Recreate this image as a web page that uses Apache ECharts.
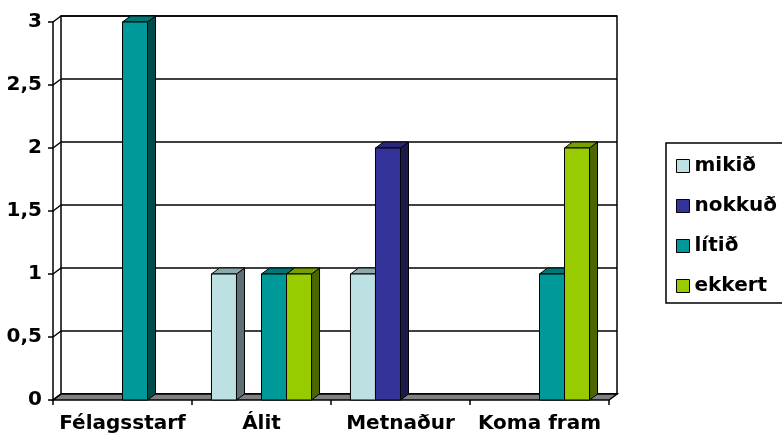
<!DOCTYPE html>
<html>
<head>
<meta charset="utf-8">
<script src="https://cdn.jsdelivr.net/npm/echarts@6/dist/echarts.min.js"></script>
<style>
    html, body { margin: 0; padding: 0; background: #fff; }
    #chart { width: 782px; height: 443px; }
</style>
</head>
<body>
<div id="chart"></div>
<script>
var categories = ["Félagsstarf", "Álit", "Metnaður", "Koma fram"];
var seriesNames = ["mikið", "nokkuð", "lítið", "ekkert"];
var mikid = [0, 1, 1, 0];
var nokkud = [0, 0, 2, 0];
var litid = [3, 1, 0, 1];
var ekkert = [0, 1, 0, 2];
var yTicks = [0, 0.5, 1, 1.5, 2, 2.5, 3];

// front, top, side colours
var faceColors = [
    ["#bde0e3", "#8ea9ac", "#5e7073"],
    ["#333399", "#282878", "#1a1a4c"],
    ["#009999", "#007777", "#004c4c"],
    ["#99cc00", "#779f00", "#4c6600"]
];
var dx = 8, dy = -6;
var fontName = "DejaVu Sans";

function makeBar(idx) {
    return function (params, api) {
        var v = api.value(1);
        if (!v) {
            return null;
        }
        var band = api.size([1, 0])[0];
        var bw = band * 0.18;
        var top = api.coord([api.value(0), v]);
        var base = api.coord([api.value(0), 0]);
        var x0 = top[0] - bw * 2 + idx * bw;
        var yt = top[1], yb = base[1];
        var cols = faceColors[idx];
        var line = { stroke: "#000", lineWidth: 1 };
        return {
            type: "group",
            children: [{
                type: "polygon",
                shape: { points: [[x0 + bw, yt], [x0 + bw + dx, yt + dy], [x0 + bw + dx, yb + dy], [x0 + bw, yb]] },
                style: Object.assign({ fill: cols[2] }, line)
            }, {
                type: "polygon",
                shape: { points: [[x0, yt], [x0 + bw, yt], [x0 + bw + dx, yt + dy], [x0 + dx, yt + dy]] },
                style: Object.assign({ fill: cols[1] }, line)
            }, {
                type: "rect",
                shape: { x: x0, y: yt, width: bw, height: yb - yt },
                style: Object.assign({ fill: cols[0] }, line)
            }]
        };
    };
}

function toData(arr) {
    var out = [];
    for (var i = 0; i < arr.length; i++) {
        out.push([i, arr[i]]);
    }
    return out;
}

// floor strip under the bars
function renderFloor(params, api) {
    var cs = params.coordSys;
    var yb = cs.y + cs.height;
    return {
        type: "polygon",
        shape: { points: [[cs.x, yb], [cs.x + cs.width, yb], [cs.x + cs.width + dx, yb + dy], [cs.x + dx, yb + dy]] },
        style: { fill: "#808080", stroke: "#000", lineWidth: 1.5 }
    };
}

// left wall diagonals at each tick
function renderWall(params, api) {
    var cs = params.coordSys;
    var p = api.coord([0, api.value(1)]);
    return {
        type: "line",
        shape: { x1: cs.x, y1: p[1], x2: cs.x + dx, y2: p[1] + dy },
        style: { stroke: "#000", lineWidth: 1.5 }
    };
}

var wallData = [];
for (var t = 0; t < yTicks.length; t++) {
    wallData.push([0, yTicks[t]]);
}
var barValues = [mikid, nokkud, litid, ekkert];

var series = [];
for (var s = 0; s < seriesNames.length; s++) {
    series.push({
        name: seriesNames[s],
        type: "custom",
        xAxisIndex: 0,
        yAxisIndex: 0,
        z: 5,
        itemStyle: { color: faceColors[s][0], borderColor: "#000", borderWidth: 1 },
        renderItem: makeBar(s),
        data: toData(barValues[s])
    });
}
series.push({
    type: "custom",
    xAxisIndex: 0,
    yAxisIndex: 0,
    z: 3,
    silent: true,
    renderItem: renderFloor,
    data: [[0, 0]]
});
series.push({
    type: "custom",
    xAxisIndex: 0,
    yAxisIndex: 0,
    z: 3,
    silent: true,
    renderItem: renderWall,
    data: wallData
});

var chart = echarts.init(document.getElementById("chart"));
var option = {
    animation: false,
    backgroundColor: "#fff",
    grid: [
        { left: 53, right: 173, top: 22, bottom: 43 },
        { left: 61, right: 165, top: 16, bottom: 49, show: true, borderColor: "#000", borderWidth: 1.5, backgroundColor: "#fff" }
    ],
    xAxis: [{
        type: "category",
        gridIndex: 0,
        data: categories,
        axisLine: { show: false },
        axisTick: { show: true, interval: 0, length: 5, lineStyle: { color: "#000", width: 1.5 } },
        axisLabel: { interval: 0, margin: 14, color: "#000", fontFamily: fontName, fontWeight: "bold", fontSize: 20 }
    }, {
        type: "category",
        gridIndex: 1,
        data: categories,
        show: false
    }],
    yAxis: [{
        type: "value",
        gridIndex: 0,
        min: 0,
        max: 3,
        interval: 0.5,
        axisLine: { show: true, lineStyle: { color: "#000", width: 1.5 } },
        axisTick: { show: true, length: 5, lineStyle: { color: "#000", width: 1.5 } },
        splitLine: { show: false },
        axisLabel: {
            margin: 11,
            color: "#000",
            fontFamily: fontName,
            fontWeight: "bold",
            fontSize: 20,
            formatter: function (v) { return String(v).replace(".", ","); }
        }
    }, {
        type: "value",
        gridIndex: 1,
        min: 0,
        max: 3,
        interval: 0.5,
        axisLine: { show: false },
        axisTick: { show: false },
        axisLabel: { show: false },
        splitLine: { show: true, lineStyle: { color: "#000", width: 1.5 } }
    }],
    legend: {
        data: seriesNames,
        orient: "vertical",
        left: 666,
        top: 143,
        padding: [13, 12, 7, 10],
        itemGap: 20,
        itemWidth: 13,
        itemHeight: 13,
        icon: "rect",
        borderColor: "#000",
        borderWidth: 1.5,
        selectedMode: false,
        itemStyle: { borderColor: "#000", borderWidth: 1 },
        textStyle: { color: "#000", fontFamily: fontName, fontWeight: "bold", fontSize: 20, lineHeight: 20 }
    },
    series: series
};
chart.setOption(option, true);
</script>
</body>
</html>
